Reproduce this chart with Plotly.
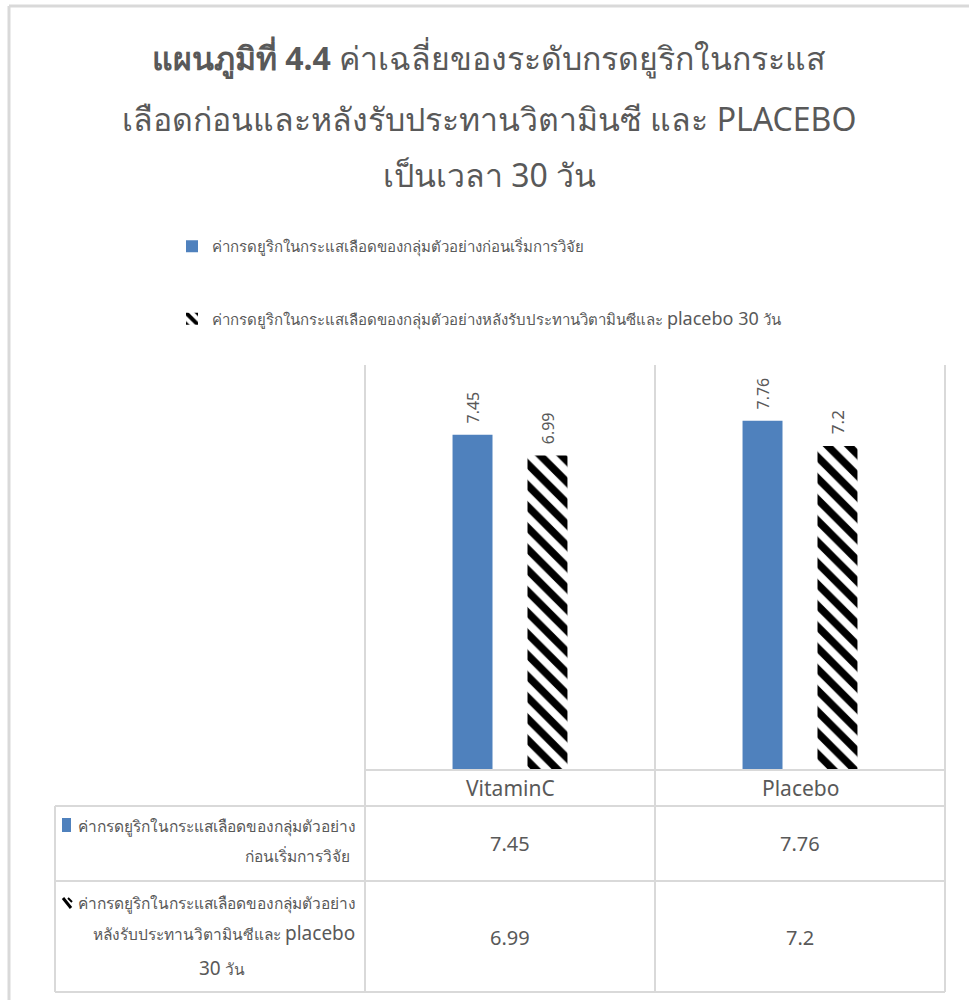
import plotly.graph_objects as go

categories = ["VitaminC", "Placebo"]
before_values = [7.45, 7.76]
after_values = [6.99, 7.2]
series_before = "ค่ากรดยูริกในกระแสเลือดของกลุ่มตัวอย่างก่อนเริ่มการวิจัย"
series_after = ("ค่ากรดยูริกในกระแสเลือดของกลุ่มตัวอย่างหลังรับประทานวิตามินซีและ "
                "<span style=\"font-size:18px\">placebo 30</span> วัน")
table_label_before = ["ค่ากรดยูริกในกระแสเลือดของกลุ่มตัวอย่าง", "ก่อนเริ่มการวิจัย"]
table_label_after = ["ค่ากรดยูริกในกระแสเลือดของกลุ่มตัวอย่าง",
                     "หลังรับประทานวิตามินซีและ <span style=\"font-size:19px\">placebo</span>",
                     "<span style=\"font-size:19px\">30</span> วัน"]
title_lines = ["<b>แผนภูมิที่ 4.4</b> ค่าเฉลี่ยของระดับกรดยูริกในกระแส",
               "เลือดก่อนและหลังรับประทานวิตามินซี และ PLACEBO",
               "เป็นเวลา 30 วัน"]

W, H = 969, 1000
L, R, T, B = 365, 945, 365, 770
GRAY = "#595959"
LINE = "#d9d9d9"
BLUE = "#4f81bd"
FONT = "Noto Sans, DejaVu Sans, sans-serif"


def px(x):
    return (x - L) / (R - L)


def py(y):
    return (B - y) / (B - T)


def label(v):
    return "\u00a0\u00a0" + str(v)


fig = go.Figure()
fig.add_trace(go.Bar(
    x=categories, y=before_values, name=series_before, legendgroup="a",
    marker=dict(color=BLUE, line=dict(width=0)),
    text=[label(v) for v in before_values], textposition="outside", textangle=-90,
    textfont=dict(color=GRAY, size=17, family=FONT), cliponaxis=False,
))
fig.add_trace(go.Bar(
    x=categories, y=after_values, name=series_after, legendgroup="b",
    marker=dict(color="white", line=dict(width=0),
                pattern=dict(shape="\\", fgcolor="black", bgcolor="white", fgopacity=1,
                             size=15, solidity=0.5)),
    text=[label(v) for v in after_values], textposition="outside", textangle=-90,
    textfont=dict(color=GRAY, size=17, family=FONT), cliponaxis=False,
))

shapes = []
def hline(y, x0, x1, w=2):
    shapes.append(dict(type="line", xref="paper", yref="paper", x0=px(x0), x1=px(x1),
                       y0=py(y), y1=py(y), line=dict(color=LINE, width=w)))
def vline(x, y0, y1, w=2):
    shapes.append(dict(type="line", xref="paper", yref="paper", x0=px(x), x1=px(x),
                       y0=py(y0), y1=py(y1), line=dict(color=LINE, width=w)))

# outer frame
hline(6, 9, 969, 3)
vline(9, 6, 1000, 3)
# plot / table grid
for x in (365, 655, 945):
    vline(x, 365, 992)
hline(770, 365, 945)
for y in (806, 881, 992):
    hline(y, 55, 945)
vline(55, 806, 992)

# legend keys inside the table
shapes.append(dict(type="rect", xref="paper", yref="paper", x0=px(62), x1=px(71),
                   y0=py(832), y1=py(818), fillcolor=BLUE, line=dict(width=0)))
shapes.append(dict(type="line", xref="paper", yref="paper", x0=px(63), x1=px(71),
                   y0=py(898), y1=py(908), line=dict(color="black", width=3)))
shapes.append(dict(type="line", xref="paper", yref="paper", x0=px(68), x1=px(72),
                   y0=py(898), y1=py(902), line=dict(color="black", width=2)))

ann = []
def text(x, y, s, size, anchor="center", color=GRAY):
    ann.append(dict(xref="paper", yref="paper", x=px(x), y=py(y), text=s, showarrow=False,
                    xanchor=anchor, yanchor="middle", font=dict(size=size, color=color, family=FONT)))

# title
for s, y in zip(title_lines, (58, 118, 175)):
    text(489, y, s, 32)

# table header
for c, x in zip(categories, (510, 800)):
    text(x, 788, c, 21)
# table rows
for v, x in zip(before_values, (510, 800)):
    text(x, 843, str(v), 20)
for v, x in zip(after_values, (510, 800)):
    text(x, 937, str(v), 20)
text(358, 826, table_label_before[0], 15.5, "right")
text(352, 856, table_label_before[1], 15.5, "right")
text(358, 903, table_label_after[0], 15.5, "right")
text(357, 933, table_label_after[1], 15.5, "right")
text(222, 968, table_label_after[2], 15.5)

fig.update_layout(
    width=W, height=H,
    margin=dict(l=L, r=W - R, t=T, b=H - B, pad=0),
    paper_bgcolor="white", plot_bgcolor="white",
    barmode="group", bargap=0.483, bargroupgap=0.467,
    showlegend=True,
    legend=dict(x=px(172), y=py(230), xanchor="left", yanchor="top",
                font=dict(size=15, color=GRAY, family=FONT), itemwidth=30,
                tracegroupgap=50, itemsizing="constant", bgcolor="rgba(0,0,0,0)"),
    xaxis=dict(showticklabels=False, showgrid=False, zeroline=False, showline=False, ticks=""),
    yaxis=dict(range=[0, 9], showticklabels=False, showgrid=False, zeroline=False,
               showline=False, ticks=""),
    shapes=shapes, annotations=ann,
)

fig.write_html("out.html")
